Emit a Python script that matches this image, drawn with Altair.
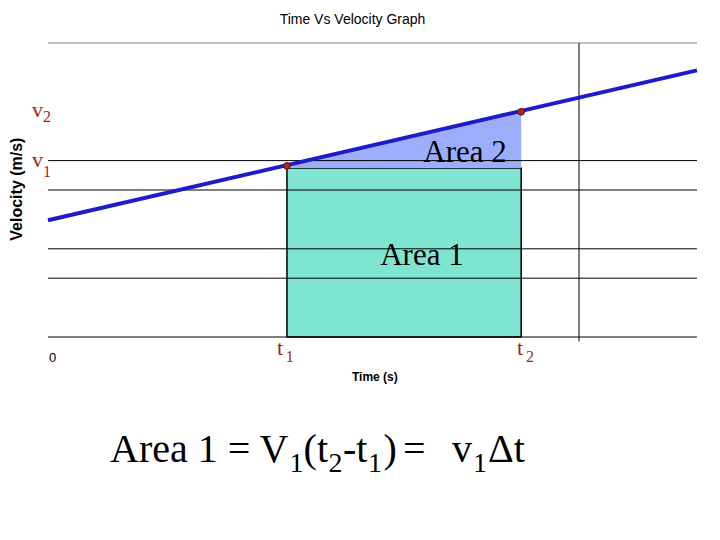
import altair as alt
import pandas as pd

# ---------------- data ----------------
line_t = [0, 11]            # time (s) at the two ends of the velocity line
line_v = [3.97, 9.07]       # velocity at those ends
t1, t2 = 4.05, 8.02         # the two marked times
v1, v2 = 5.82, 7.66         # velocities at t1, t2
rect_top = 5.75             # top edge of the Area 1 rectangle
grid_v = [0, 2, 3, 5, 6, 10]
grid_color = ["#000000", "#000000", "#000000", "#000000", "#000000", "#808080"]
marker_t = 9                # vertical reference line
marker_v = [10, -0.15]

# serif annotations: text, t, v, size, color
ann_text = ["v", "2", "v", "1", "t", "1", "t", "2", "Area 2", "Area 1",
            "Area 1 = V", "1", "(", "t", "2", "-t", "1", ")", "=", "v", "1", "\u0394t"]
ann_t = [-0.27, -0.085, -0.27, -0.085, 3.88, 4.03, 7.95, 8.10, 6.36, 5.63,
         1.051, 4.093, 4.331, 4.559, 4.754, 5.0, 5.424, 5.686, 6.017, 6.847, 7.203, 7.458]
ann_v = [7.48, 7.31, 5.78, 5.44, -0.61, -0.85, -0.61, -0.85, 5.95, 2.45,
         -4.25, -4.59, -4.25, -4.25, -4.59, -4.25, -4.59, -4.25, -4.25, -4.25, -4.59, -4.25]
ann_size = [22, 16, 22, 16, 22, 16, 22, 16, 31, 31,
            40, 28, 40, 40, 28, 40, 28, 40, 40, 40, 28, 40]
red = "#a31f24"
ann_color = [red] * 8 + ["#000000"] * 14

# axis-style sans labels
zero_text, zero_t, zero_v = ["0"], [0.017], [-0.85]
xt_text, xt_t, xt_v = ["Time (s)"], [5.54], [-1.50]
yt_text, yt_t, yt_v = ["Velocity (m/s)"], [-0.53], [5.03]

# ---------------- tables ----------------
line_df = pd.DataFrame({"t": line_t, "v": line_v})
rect_df = pd.DataFrame({"t": [t1], "t2": [t2], "v": [0], "v2": [rect_top]})
area_df = pd.DataFrame({"t": [t1, t2], "top": [v1, v2], "bottom": [rect_top, rect_top]})
pts_df = pd.DataFrame({"t": [t1, t2], "v": [v1, v2]})
grid_df = pd.DataFrame({"v": grid_v, "x0": [0] * len(grid_v), "x1": [11] * len(grid_v),
                        "c": grid_color})
vrule_df = pd.DataFrame({"t": [marker_t], "v": [marker_v[0]], "v2": [marker_v[1]]})
ann_df = pd.DataFrame({"text": ann_text, "t": ann_t, "v": ann_v,
                       "size": ann_size, "color": ann_color})
zero_df = pd.DataFrame({"text": zero_text, "t": zero_t, "v": zero_v})
xt_df = pd.DataFrame({"text": xt_text, "t": xt_t, "v": xt_v})
yt_df = pd.DataFrame({"text": yt_text, "t": yt_t, "v": yt_v})

xs = alt.Scale(domain=[0, 11], nice=False, zero=False)
ys = alt.Scale(domain=[0, 10], nice=False, zero=False)
X = lambda f: alt.X(f, scale=xs, axis=None)
Y = lambda f: alt.Y(f, scale=ys, axis=None)

rect = alt.Chart(rect_df).mark_rect(fill="#80e5d0", stroke="#000000", strokeWidth=1.5).encode(
    x=X("t:Q"), x2="t2:Q", y=Y("v:Q"), y2="v2:Q",
)

area2 = alt.Chart(area_df).mark_area(color="#9cadfc", opacity=1).encode(
    x=X("t:Q"), y=Y("top:Q"), y2="bottom:Q",
)

grid = alt.Chart(grid_df).mark_rule(strokeWidth=1).encode(
    x=X("x0:Q"), x2="x1:Q", y=Y("v:Q"),
    color=alt.Color("c:N", scale=None),
)

vrule = alt.Chart(vrule_df).mark_rule(strokeWidth=1, color="#000000").encode(
    x=X("t:Q"), y=Y("v:Q"), y2="v2:Q",
)

line = alt.Chart(line_df).mark_line(color="#1c1cc8", strokeWidth=4).encode(
    x=X("t:Q"), y=Y("v:Q"),
)

pts = alt.Chart(pts_df).mark_point(filled=True, color="#b3261e", size=45,
                                    stroke="#5a0f0f", strokeWidth=1, opacity=1).encode(
    x=X("t:Q"), y=Y("v:Q"),
)

ann = alt.Chart(ann_df).mark_text(font="Liberation Serif", align="left",
                                  baseline="alphabetic").encode(
    x=X("t:Q"), y=Y("v:Q"), text="text:N",
    size=alt.Size("size:Q", scale=None),
    color=alt.Color("color:N", scale=None),
)

zero_lab = alt.Chart(zero_df).mark_text(
    font="Liberation Sans Narrow, Liberation Sans", fontSize=13, align="left",
    baseline="alphabetic", fill="#000000").encode(
    x=X("t:Q"), y=Y("v:Q"), text="text:N",
)

xtitle = alt.Chart(xt_df).mark_text(
    font="Liberation Sans", fontWeight="bold", fontSize=12, align="center",
    baseline="alphabetic", fill="#000000").encode(
    x=X("t:Q"), y=Y("v:Q"), text="text:N",
)

ytitle = alt.Chart(yt_df).mark_text(
    font="Liberation Sans", fontWeight="bold", fontSize=16, angle=270,
    align="center", baseline="middle", fill="#000000").encode(
    x=X("t:Q"), y=Y("v:Q"), text="text:N",
)

chart = alt.layer(rect, area2, grid, vrule, line, pts, ann, zero_lab, xtitle, ytitle).properties(
    width=649, height=294,
    padding={"left": 40, "top": 35, "right": 15, "bottom": 195},
    autosize=alt.AutoSizeParams(type="none"),
    background="#ffffff",
    title=alt.TitleParams("Time Vs Velocity Graph", font="Liberation Sans", fontSize=14,
                          fontWeight="normal", color="#000000", dx=-20, offset=16),
).configure_view(stroke=None)

chart.save("out.html", embed_options={"renderer": "svg", "actions": False})
